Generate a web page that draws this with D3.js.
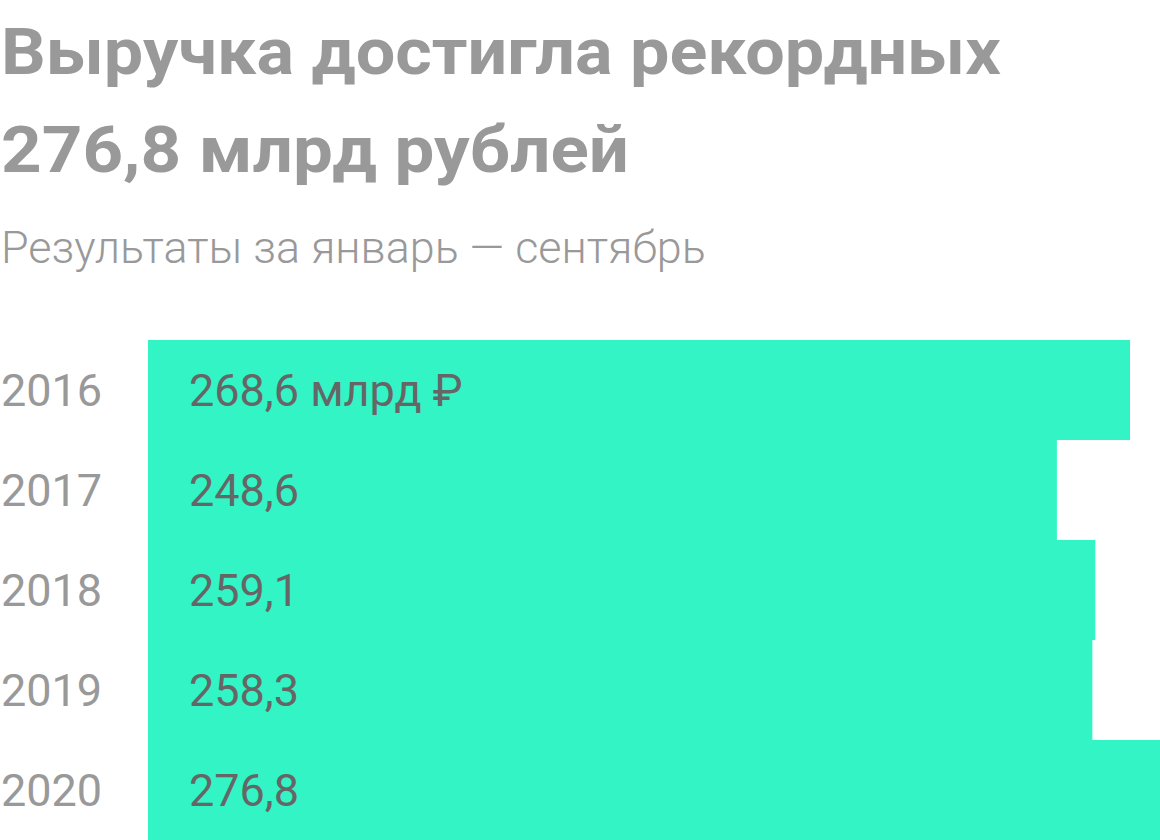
<!DOCTYPE html>
<html>
<head>
<meta charset="utf-8">
<script src="https://cdn.jsdelivr.net/npm/d3@7"></script>
<style>
  html, body { margin: 0; padding: 0; background: #fff; }
  svg { display: block; font-family: Roboto, "Noto Sans", sans-serif; }
</style>
</head>
<body>
<svg id="chart"></svg>
<script>
const titleLines = ["Выручка достигла рекордных", "276,8 млрд рублей"];
const titleWidths = [1000, 628];
const subtitle = "Результаты за январь — сентябрь";
const years = ["2016", "2017", "2018", "2019", "2020"];
const revenue = [268.6, 248.6, 259.1, 258.3, 276.8];
const valueLabels = ["268,6 млрд ₽", "248,6", "259,1", "258,3", "276,8"];

const width = 1160, height = 840;
const margin = { top: 340, right: 0, bottom: 0, left: 148 };

const svg = d3.select("#chart")
  .attr("width", width)
  .attr("height", height);

// stretch a text horizontally to a target width (reference font is wider than Roboto)
function fitWidth(sel, targetW) {
  sel.each(function (d, i) {
    const t = d3.select(this);
    const w = this.getComputedTextLength();
    const tw = typeof targetW === "function" ? targetW(d, i) : targetW;
    const x0 = +t.attr("x"), y0 = +t.attr("y");
    t.attr("x", 0).attr("y", 0)
      .attr("transform", `translate(${x0},${y0}) scale(${tw / w},1)`);
  });
}

// Title + subtitle
svg.selectAll(".title")
  .data(titleLines)
  .enter()
  .append("text")
  .attr("class", "title")
  .attr("x", 1)
  .attr("y", (d, i) => 74 + i * 98)
  .style("font-size", "64px")
  .style("font-weight", "700")
  .style("fill", "#999")
  .text(d => d)
  .call(fitWidth, (d, i) => titleWidths[i]);

svg.append("text")
  .attr("x", 1)
  .attr("y", 263)
  .style("font-size", "44px")
  .style("font-weight", "300")
  .style("fill", "#999")
  .text(subtitle)
  .call(fitWidth, 705);

// Scales
const x = d3.scaleLinear()
  .domain([0, d3.max(revenue)])
  .range([margin.left, width - margin.right]);

const y = d3.scaleBand()
  .domain(years)
  .range([margin.top, height - margin.bottom])
  .padding(0);

const rows = years.map((yr, i) => ({ year: yr, value: revenue[i], label: valueLabels[i] }));

// Bars
svg.selectAll(".bar")
  .data(rows)
  .enter()
  .append("rect")
  .attr("class", "bar")
  .attr("x", x(0))
  .attr("y", d => y(d.year))
  .attr("width", d => x(d.value) - x(0))
  .attr("height", y.bandwidth())
  .attr("fill", "#33f4c4");

// Year labels (axis without line/ticks)
const yAxis = svg.append("g")
  .attr("class", "y-axis")
  .call(d3.axisRight(y).tickSize(0).tickPadding(0));
yAxis.select(".domain").remove();
yAxis.selectAll("text")
  .attr("x", 1)
  .attr("dy", "0.35em")
  .style("font-family", "Roboto, 'Noto Sans', sans-serif")
  .style("font-size", "45px")
  .style("font-weight", "400")
  .style("fill", "#999");

// Value labels inside bars
svg.selectAll(".bar-text")
  .data(rows)
  .enter()
  .append("text")
  .attr("class", "bar-text")
  .attr("x", x(0) + 41)
  .attr("y", d => y(d.year) + y.bandwidth() / 2)
  .attr("dy", "0.35em")
  .style("font-size", "45px")
  .style("font-weight", "400")
  .style("fill", "#666")
  .text(d => d.label);
</script>
</body>
</html>
